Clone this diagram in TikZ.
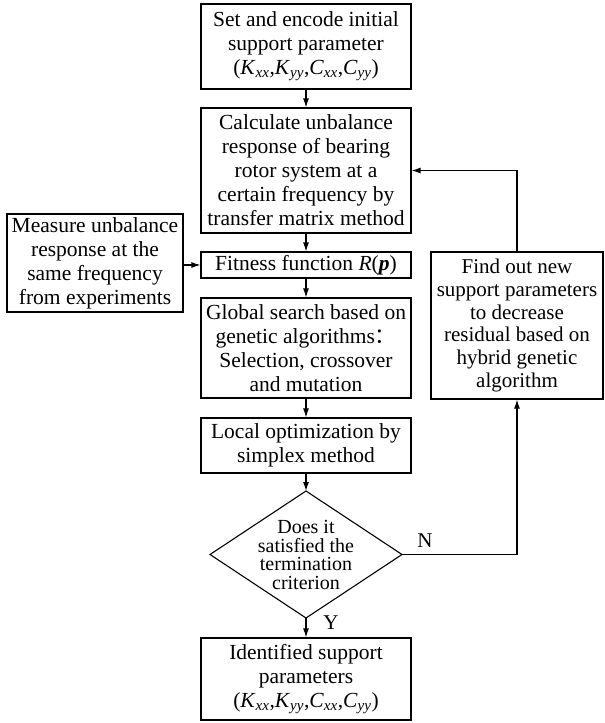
\documentclass[tikz,border=0pt]{standalone}
\usepackage{fontspec}
\setmainfont{Liberation Serif}
\newfontfamily\cjk{Noto Sans CJK SC}
\usetikzlibrary{arrows.meta}
\newcommand\kcparams{(\textit{K}\textsubscript{\itshape xx},\textit{K}\textsubscript{\itshape yy},\textit{C}\textsubscript{\itshape xx},\textit{C}\textsubscript{\itshape yy})}
\begin{document}
\begin{tikzpicture}[x=1pt,y=-1pt,
  box/.style={draw, line width=1.1pt, inner sep=0pt, align=center, font=\fontsize{21.5}{24}\selectfont},
  arr/.style={line width=1.1pt, -{Latex[length=9pt,width=6pt]}},
  ln/.style={line width=1.1pt},
  lbl/.style={font=\fontsize{21}{24}\selectfont, inner sep=0pt}]
\useasboundingbox (0,0) rectangle (605,723);
\node[box, minimum width=210pt, minimum height=85pt] (b1) at (306,46.5)
  {Set and encode initial\\support parameter\\\kcparams};
\node[box, minimum width=210pt, minimum height=125pt] (calc) at (306,170.5)
  {Calculate unbalance\\response of bearing\\rotor system at a\\certain frequency by\\transfer matrix method};
\node[box, minimum width=176pt, minimum height=98pt] (meas) at (95,263)
  {Measure unbalance\\response at the\\same frequency\\from experiments};
\node[box, minimum width=210pt, minimum height=26pt] (fit) at (306,265)
  {Fitness function \textit{R}(\textbf{\textit{p}})};
\node[box, minimum width=210pt, minimum height=100pt] (glob) at (306,348)
  {Global search based on\\genetic algorithms{\cjk ：}\\Selection, crossover\\and mutation};
\node[box, minimum width=210pt, minimum height=55pt] (loc) at (306,445.5)
  {Local optimization by\\simplex method};
\node[box, minimum width=172pt, minimum height=147pt, font=\fontsize{21}{22.7}\selectfont] (newp) at (517,325.5)
  {Find out new\\support parameters\\to decrease\\residual based on\\hybrid genetic\\algorithm};
\coordinate (dT) at (306,491);
\coordinate (dB) at (306,618);
\coordinate (dL) at (210,554.5);
\coordinate (dR) at (402,554.5);
\draw[ln] (dT) -- (dR) -- (dB) -- (dL) -- cycle;
\node[lbl, align=center, font=\fontsize{20}{18.4}\selectfont] (dtext) at (306,555)
  {Does it\\satisfied the\\termination\\criterion};
\node[box, minimum width=210pt, minimum height=82pt] (ident) at (306,679)
  {Identified support\\parameters\\\kcparams};
\draw[arr] (b1) -- (calc);
\draw[arr] (calc) -- (fit);
\draw[arr] (fit) -- (glob);
\draw[arr] (glob) -- (loc);
\draw[arr] (loc) -- (dT);
\draw[arr] (dB) -- (ident);
\draw[arr] (meas.east |- fit.west) -- (fit.west);
\draw[arr] (newp.north) |- (calc.east);
\draw[arr] (dR) -| (newp.south);
\node[lbl] (nlab) at (425,541) {N};
\node[lbl] (ylab) at (331,623) {Y};
\end{tikzpicture}
\end{document}
